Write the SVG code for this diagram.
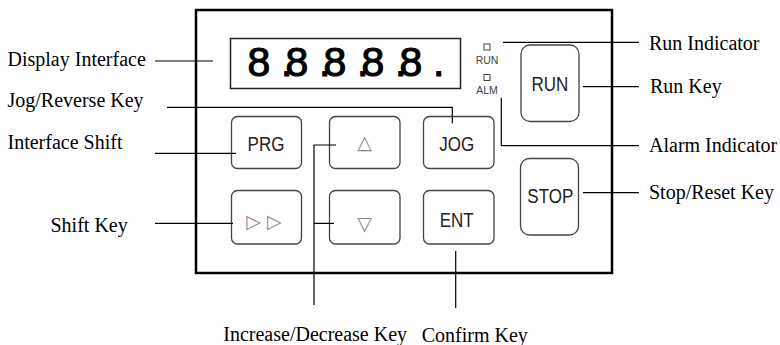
<svg xmlns="http://www.w3.org/2000/svg" width="780" height="345" viewBox="0 0 780 345">
<style>
.frame{fill:#fff;stroke:#000;stroke-width:2.5}
.disp{fill:#fff;stroke:#222;stroke-width:1.5}
.key{fill:#fff;stroke:#444;stroke-width:1.3}
.kt{font-family:"Liberation Sans",Arial,sans-serif;font-size:17px;fill:#222;text-anchor:middle}
.led{fill:#fff;stroke:#444;stroke-width:1}
.lt{font-family:"Liberation Sans",Arial,sans-serif;font-size:10.5px;fill:#444;text-anchor:middle}
.sym{font-family:"DejaVu Sans",sans-serif;fill:#888;text-anchor:middle}
.lab{font-family:"Liberation Serif","Times New Roman",serif;font-size:20px;fill:#000}
.ld{fill:none;stroke:#000;stroke-width:1.2}
</style>
<g id="panel">
<rect class="frame" x="196" y="10" width="416" height="263"/>
</g>
<g id="display">
<rect class="disp" x="230.5" y="38.5" width="230" height="50"/>
<text x="247.5 281 285.5 319 323.5 357 361.5 395 399.5 433" y="75.5" font-family="Liberation Sans,Arial,sans-serif" font-size="41" fill="#000" stroke="#000" stroke-width="1.1">8.8.8.8.8.</text>
</g>
<g id="run-led">
<rect class="led" x="484" y="44" width="6" height="6"/>
<text class="lt" x="487" y="64.3">RUN</text>
</g>
<g id="alm-led">
<rect class="led" x="484" y="74.5" width="6" height="6"/>
<text class="lt" x="487" y="94.3">ALM</text>
</g>
<g id="key-prg">
<rect class="key" x="231.5" y="116.5" width="70" height="52" rx="6"/>
<text class="kt" x="266" y="150.7" transform="translate(0,-22.6) scale(1,1.15)">PRG</text>
</g>
<g id="key-up">
<rect class="key" x="329.5" y="116.5" width="70.5" height="52" rx="6"/>
<text class="sym" x="364.5" y="149" font-size="19">△</text>
</g>
<g id="key-jog">
<rect class="key" x="423.5" y="116.5" width="70.5" height="52" rx="6"/>
<text class="kt" x="456.7" y="150.7" transform="translate(0,-22.6) scale(1,1.15)">JOG</text>
</g>
<g id="key-shift">
<rect class="key" x="231.5" y="190.5" width="70" height="53.5" rx="6"/>
<text class="sym" x="264" y="227.5" font-size="19">▷ ▷</text>
</g>
<g id="key-down">
<rect class="key" x="329.5" y="190.5" width="70.5" height="53.5" rx="6"/>
<text class="sym" x="364.5" y="229.5" font-size="19">▽</text>
</g>
<g id="key-ent">
<rect class="key" x="423.5" y="190.5" width="70.5" height="53.5" rx="6"/>
<text class="kt" x="456.7" y="226.7" transform="translate(0,-34) scale(1,1.15)">ENT</text>
</g>
<g id="key-run">
<rect class="key" x="521" y="45" width="58" height="76.5" rx="9"/>
<text class="kt" x="550" y="91" transform="translate(0,-13.65) scale(1,1.15)">RUN</text>
</g>
<g id="key-stop">
<rect class="key" x="520.5" y="158.5" width="58" height="76.5" rx="9"/>
<text class="kt" x="550.3" y="203.3" transform="translate(0,-30.5) scale(1,1.15)">STOP</text>
</g>
<g id="connectors">
<path class="ld" d="M155 61H213"/>
<path class="ld" d="M167 107.3H452.3V123.3"/>
<path class="ld" d="M155 153.3H236"/>
<path class="ld" d="M155 223.3H233"/>
<path class="ld" d="M336 145H314V305M314 223.3H334"/>
<path class="ld" d="M455.7 251V308"/>
<path class="ld" d="M503 42.3H639"/>
<path class="ld" d="M583 86.7H639"/>
<path class="ld" d="M501.3 97.7V145.7H639"/>
<path class="ld" d="M583 192.7H639"/>
</g>
<g id="labels">
<text class="lab" x="7.5" y="66">Display Interface</text>
<text class="lab" x="7.5" y="107.3">Jog/Reverse Key</text>
<text class="lab" x="7.5" y="149.3">Interface Shift</text>
<text class="lab" x="50.5" y="232.3">Shift Key</text>
<text class="lab" x="649" y="50">Run Indicator</text>
<text class="lab" x="650" y="92.7">Run Key</text>
<text class="lab" x="649" y="151.7">Alarm Indicator</text>
<text class="lab" x="649" y="198.7">Stop/Reset Key</text>
<text class="lab" x="223.3" y="340.5">Increase/Decrease Key</text>
<text class="lab" x="421.7" y="342">Confirm Key</text>
</g>
</svg>
